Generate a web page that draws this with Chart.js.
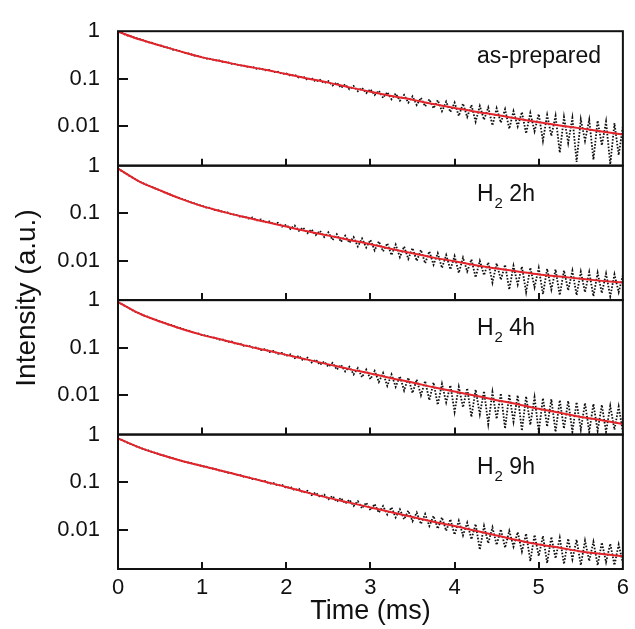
<!DOCTYPE html>
<html>
<head>
<meta charset="utf-8">
<script src="https://cdn.jsdelivr.net/npm/chart.js@4.4.0/dist/chart.umd.min.js"></script>
<style>
  html, body { margin: 0; padding: 0; background: #fff; }
  #wrap { position: relative; width: 635px; height: 629px; }
</style>
</head>
<body>
<div id="wrap"><canvas id="decayChart" width="635" height="629"></canvas></div>
<script>
// Luminescence decay curves, four samples, log intensity vs time

const labelMain = ["as-prepared", "H", "H", "H"];
const labelSub = ["", "2", "2", "2"];
const labelTail = ["", " 2h", " 4h", " 9h"];

const xTicks = [0, 1, 2, 3, 4, 5, 6];
const yTickValues = [0.01, 0.1, 1];
const yTickLabels = ["0.01", "0.1", "1"];
const yMin = 0.0015;
const yMax = 1;

// fitted curves, every 0.25 ms
const fitTimes = [0, 0.25, 0.5, 0.75, 1, 1.25, 1.5, 1.75, 2, 2.25, 2.5, 2.75, 3,
  3.25, 3.5, 3.75, 4, 4.25, 4.5, 4.75, 5, 5.25, 5.5, 5.75, 6];

const fitAsPrepared = [0.977, 0.676, 0.501, 0.372, 0.282, 0.229, 0.186, 0.155, 0.126,
  0.102, 0.0832, 0.0661, 0.0537, 0.0437, 0.0363, 0.0295, 0.0245, 0.0204, 0.0174,
  0.0145, 0.0123, 0.0105, 0.0091, 0.0078, 0.0068];
const fitH2h = [0.871, 0.468, 0.302, 0.200, 0.141, 0.107, 0.0832, 0.0661, 0.0525,
  0.0417, 0.0339, 0.0275, 0.0224, 0.0178, 0.0145, 0.0117, 0.0098, 0.0081, 0.0069,
  0.0060, 0.0052, 0.0047, 0.0042, 0.0038, 0.0035];
const fitH4h = [0.912, 0.525, 0.355, 0.251, 0.186, 0.145, 0.112, 0.0891, 0.0708,
  0.0562, 0.0447, 0.0355, 0.0288, 0.0229, 0.0186, 0.0148, 0.0120, 0.0098, 0.0079,
  0.0065, 0.0052, 0.0043, 0.0035, 0.0030, 0.0025];
const fitH9h = [0.832, 0.537, 0.380, 0.282, 0.219, 0.170, 0.132, 0.102, 0.0794,
  0.0603, 0.0468, 0.0372, 0.0295, 0.0234, 0.0186, 0.0148, 0.0120, 0.0095, 0.0076,
  0.0060, 0.0049, 0.0042, 0.0035, 0.0031, 0.0028];

// measured decay, every 0.05 ms
const dataAsPrepared = [0.977, 0.923, 0.822, 0.785, 0.724, 0.692, 0.646, 0.589, 0.575, 0.525,
  0.507, 0.468, 0.452, 0.412, 0.398, 0.376, 0.347, 0.339, 0.309, 0.302,
  0.285, 0.266, 0.263, 0.245, 0.243, 0.226, 0.224, 0.207, 0.204, 0.191,
  0.188, 0.176, 0.178, 0.162, 0.164, 0.151, 0.153, 0.138, 0.141, 0.127,
  0.130, 0.116, 0.122, 0.106, 0.112, 0.0955, 0.104, 0.0871, 0.0955, 0.0813,
  0.0891, 0.0724, 0.0832, 0.0646, 0.0759, 0.0603, 0.0708, 0.0550, 0.0646, 0.0501,
  0.0603, 0.0457, 0.0562, 0.0398, 0.0525, 0.0372, 0.0490, 0.0347, 0.0457, 0.0316,
  0.0427, 0.0282, 0.0398, 0.0263, 0.0372, 0.0240, 0.0355, 0.0209, 0.0331, 0.0200,
  0.0316, 0.0166, 0.0302, 0.0158, 0.0282, 0.0126, 0.0269, 0.0138, 0.0251, 0.0105,
  0.0240, 0.0120, 0.0229, 0.0089, 0.0209, 0.0100, 0.0200, 0.0071, 0.0191, 0.0079,
  0.0182, 0.0050, 0.0174, 0.0063, 0.0166, 0.0028, 0.0158, 0.0045, 0.0151, 0.0018,
  0.0141, 0.0050, 0.0138, 0.0020, 0.0132, 0.0040, 0.0126, 0.0016, 0.0117, 0.0025,
  0.0100];
const dataH2h = [0.871, 0.759, 0.668, 0.589, 0.525, 0.468, 0.427, 0.389, 0.359, 0.327,
  0.305, 0.275, 0.257, 0.234, 0.219, 0.200, 0.188, 0.172, 0.164, 0.150,
  0.143, 0.132, 0.129, 0.117, 0.115, 0.106, 0.104, 0.0955, 0.0933, 0.0851,
  0.0851, 0.0776, 0.0813, 0.0708, 0.0741, 0.0646, 0.0676, 0.0589, 0.0631, 0.0525,
  0.0575, 0.0468, 0.0550, 0.0427, 0.0501, 0.0380, 0.0457, 0.0347, 0.0427, 0.0316,
  0.0398, 0.0275, 0.0363, 0.0251, 0.0339, 0.0240, 0.0316, 0.0200, 0.0295, 0.0191,
  0.0275, 0.0166, 0.0257, 0.0158, 0.0234, 0.0132, 0.0219, 0.0120, 0.0200, 0.0110,
  0.0186, 0.0100, 0.0170, 0.0089, 0.0158, 0.0083, 0.0145, 0.0071, 0.0132, 0.0066,
  0.0126, 0.0056, 0.0117, 0.0060, 0.0107, 0.0045, 0.0100, 0.0050, 0.0093, 0.0035,
  0.0089, 0.0040, 0.0083, 0.0025, 0.0079, 0.0032, 0.0076, 0.0022, 0.0072, 0.0028,
  0.0071, 0.0020, 0.0068, 0.0025, 0.0066, 0.0019, 0.0063, 0.0024, 0.0062, 0.0019,
  0.0059, 0.0022, 0.0058, 0.0018, 0.0056, 0.0021, 0.0054, 0.0018, 0.0052, 0.0022,
  0.0050];
const dataH4h = [0.912, 0.813, 0.724, 0.646, 0.575, 0.531, 0.479, 0.452, 0.407, 0.389,
  0.351, 0.335, 0.305, 0.295, 0.266, 0.257, 0.234, 0.226, 0.207, 0.200,
  0.184, 0.180, 0.166, 0.162, 0.148, 0.148, 0.133, 0.135, 0.120, 0.122,
  0.108, 0.111, 0.100, 0.101, 0.0891, 0.0933, 0.0813, 0.0851, 0.0741, 0.0776,
  0.0676, 0.0724, 0.0603, 0.0676, 0.0537, 0.0617, 0.0490, 0.0562, 0.0437, 0.0513,
  0.0398, 0.0479, 0.0347, 0.0437, 0.0316, 0.0398, 0.0275, 0.0372, 0.0240, 0.0347,
  0.0219, 0.0324, 0.0191, 0.0295, 0.0158, 0.0275, 0.0151, 0.0251, 0.0126, 0.0234,
  0.0112, 0.0214, 0.0100, 0.0200, 0.0079, 0.0186, 0.0063, 0.0174, 0.0071, 0.0162,
  0.0045, 0.0151, 0.0056, 0.0141, 0.0035, 0.0132, 0.0040, 0.0123, 0.0025, 0.0117,
  0.0032, 0.0110, 0.0020, 0.0105, 0.0028, 0.0100, 0.0018, 0.0095, 0.0024, 0.0091,
  0.0017, 0.0087, 0.0022, 0.0083, 0.0017, 0.0079, 0.0020, 0.0076, 0.0017, 0.0072,
  0.0019, 0.0069, 0.0017, 0.0066, 0.0018, 0.0063, 0.0017, 0.0060, 0.0019, 0.0058,
  0.0017];
const dataH9h = [0.832, 0.762, 0.688, 0.635, 0.578, 0.540, 0.497, 0.471, 0.434, 0.410,
  0.378, 0.360, 0.335, 0.320, 0.297, 0.284, 0.266, 0.257, 0.240, 0.232,
  0.216, 0.211, 0.195, 0.191, 0.176, 0.172, 0.158, 0.157, 0.143, 0.141,
  0.129, 0.127, 0.116, 0.115, 0.105, 0.105, 0.0933, 0.0955, 0.0851, 0.0871,
  0.0759, 0.0794, 0.0676, 0.0724, 0.0603, 0.0661, 0.0537, 0.0603, 0.0490, 0.0550,
  0.0437, 0.0513, 0.0389, 0.0468, 0.0355, 0.0427, 0.0316, 0.0398, 0.0282, 0.0372,
  0.0257, 0.0347, 0.0229, 0.0316, 0.0209, 0.0295, 0.0182, 0.0269, 0.0166, 0.0251,
  0.0151, 0.0229, 0.0132, 0.0214, 0.0120, 0.0195, 0.0105, 0.0182, 0.0095, 0.0166,
  0.0079, 0.0155, 0.0076, 0.0141, 0.0063, 0.0132, 0.0038, 0.0120, 0.0052, 0.0112,
  0.0048, 0.0102, 0.0042, 0.0095, 0.0044, 0.0089, 0.0035, 0.0083, 0.0022, 0.0078,
  0.0028, 0.0074, 0.0020, 0.0071, 0.0025, 0.0068, 0.0019, 0.0065, 0.0024, 0.0062,
  0.0018, 0.0059, 0.0022, 0.0056, 0.0018, 0.0054, 0.0021, 0.0051, 0.0018, 0.0049,
  0.0020];

const fits = [fitAsPrepared, fitH2h, fitH4h, fitH9h];
const measured = [dataAsPrepared, dataH2h, dataH4h, dataH9h];

// sampling grid of the measured curves (0.05 ms)
const dataTimes = dataAsPrepared.map((_, i) => Math.round(i * 5) / 100);

const FONT = "'Liberation Sans', Arial, Helvetica, sans-serif";
const INK = "#111";
const RED = "#e3242b";

const datasets = [];
measured.forEach((vals, i) => {
  datasets.push({
    label: "fit " + i,
    data: fitTimes.map((t, k) => ({ x: t, y: fits[i][k] })),
    yAxisID: "y" + i,
    borderColor: RED,
    borderWidth: 2,
    pointRadius: 0,
    cubicInterpolationMode: "monotone",
    order: 0,
  });
  datasets.push({
    label: "data " + i,
    data: dataTimes.map((t, k) => ({ x: t, y: vals[k] })),
    yAxisID: "y" + i,
    borderColor: "#111",
    borderWidth: 1.8,
    borderDash: [1.6, 1.6],
    pointRadius: 0,
    tension: 0,
    order: 1,
  });
});

const scales = {
  x: {
    type: "linear",
    position: "bottom",
    min: 0,
    max: 6,
    afterBuildTicks: (s) => { s.ticks = xTicks.map((v) => ({ value: v })); },
    ticks: { font: { family: FONT, size: 22 }, color: INK, padding: 6 },
    grid: { display: false, drawTicks: false },
    border: { display: false },
    title: {
      display: true,
      text: "Time (ms)",
      font: { family: FONT, size: 27 },
      color: INK,
      padding: { top: 0, bottom: 1 },
    },
    afterFit: (s) => { s.height = 60; },
  },
};

// stacked left axes are laid out last-defined first, so add them bottom panel first
for (let i = measured.length - 1; i >= 0; i--) {
  scales["y" + i] = {
    type: "logarithmic",
    position: "left",
    stack: "panels",
    stackWeight: 1,
    min: yMin,
    max: yMax,
    afterBuildTicks: (s) => { s.ticks = yTickValues.map((v) => ({ value: v })); },
    ticks: {
      font: { family: FONT, size: 22 },
      color: INK,
      padding: 18,
      callback: (v) => yTickLabels[yTickValues.indexOf(v)],
    },
    grid: { display: false, drawTicks: false },
    border: { display: false },
    afterFit: (s) => { s.width = 118; },
  };
}

// frame, inner ticks, panel names, y title
const framePlugin = {
  id: "frame",
  afterDatasetsDraw(chart) {
    const { ctx, chartArea: a } = chart;
    const xs = chart.scales.x;
    ctx.save();
    ctx.strokeStyle = INK;
    ctx.lineWidth = 2;
    measured.forEach((_, i) => {
      const s = chart.scales["y" + i];
      ctx.strokeRect(a.left, s.top, a.right - a.left, s.bottom - s.top);
      ctx.beginPath();
      [0.1, 0.01].forEach((v) => {
        const y = Math.round(s.getPixelForValue(v));
        ctx.moveTo(a.left, y);
        ctx.lineTo(a.left + 10, y);
      });
      xTicks.slice(1, -1).forEach((v) => {
        const x = Math.round(xs.getPixelForValue(v));
        ctx.moveTo(x, s.bottom);
        ctx.lineTo(x, s.bottom - 7);
      });
      ctx.stroke();

      // panel name
      ctx.fillStyle = INK;
      ctx.textBaseline = "alphabetic";
      ctx.textAlign = "left";
      const base = s.top + [32, 35, 35, 39][i];
      let x = 477;
      ctx.font = "23px " + FONT;
      ctx.fillText(labelMain[i], x, base);
      x += ctx.measureText(labelMain[i]).width;
      if (labelSub[i]) {
        ctx.font = "15px " + FONT;
        ctx.fillText(labelSub[i], x + 1, base + 7);
        x += ctx.measureText(labelSub[i]).width + 1;
        ctx.font = "23px " + FONT;
        ctx.fillText(labelTail[i], x, base);
      }
    });

    ctx.translate(27, 298);
    ctx.rotate(-Math.PI / 2);
    ctx.font = "28px " + FONT;
    ctx.textAlign = "center";
    ctx.textBaseline = "middle";
    ctx.fillText("Intensity (a.u.)", 0, 0);
    ctx.restore();
  },
};

new Chart("decayChart", {
  type: "line",
  data: { datasets: datasets },
  options: {
    responsive: false,
    animation: false,
    devicePixelRatio: 1,
    layout: { padding: { top: 20, right: 5, left: 0, bottom: 0 } },
    plugins: { legend: { display: false }, tooltip: { enabled: false } },
    scales: scales,
  },
  plugins: [framePlugin],
});
</script>
</body>
</html>
